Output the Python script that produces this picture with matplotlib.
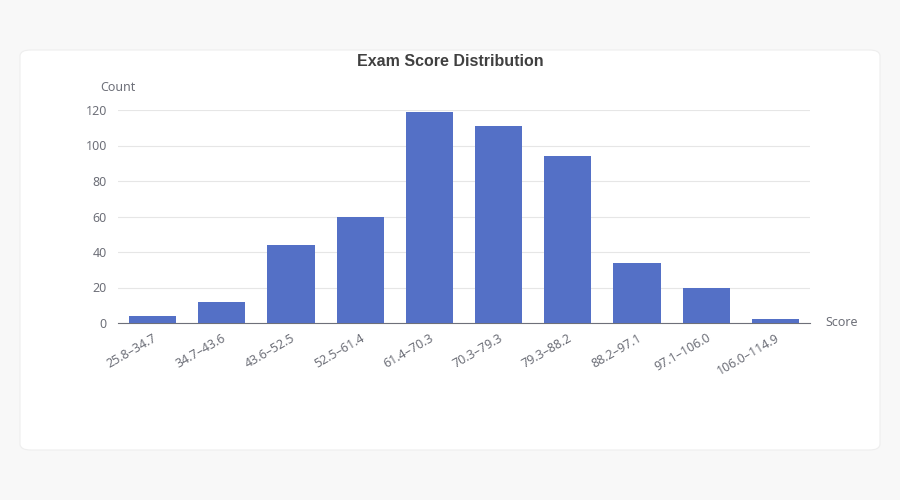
import matplotlib
matplotlib.use("Agg")
import matplotlib.pyplot as plt
from matplotlib.patches import FancyBboxPatch
import numpy as np

categories = ["25.8–34.7", "34.7–43.6", "43.6–52.5", "52.5–61.4", "61.4–70.3",
              "70.3–79.3", "79.3–88.2", "88.2–97.1", "97.1–106.0", "106.0–114.9"]
counts = [4, 12, 44, 60, 119, 111, 94, 34, 20, 2]
yticks = [0, 20, 40, 60, 80, 100, 120]

plt.rcParams['font.family'] = ['Noto Sans', 'DejaVu Sans']

fig = plt.figure(figsize=(9, 5), dpi=100)
fig.patch.set_facecolor('#f8f8f8')
card = FancyBboxPatch((20/900, 50/500), 860/900, 400/500,
                      boxstyle="round,pad=0,rounding_size=0.012",
                      transform=fig.transFigure, facecolor='white',
                      edgecolor='#eeeeee', linewidth=0.8, zorder=-10)
fig.patches.append(card)

ax = fig.add_axes([118/900, 1-323/500, (810-118)/900, (323-110)/500])
ax.set_zorder(1)
ax.set_facecolor('none')
x = np.arange(len(categories))
ax.bar(x, counts, width=0.68, color='#5470c6', zorder=3)
ax.set_xlim(-0.5, len(categories)-0.5)
ax.set_ylim(0, 120)
ax.set_yticks(yticks)
ax.set_yticklabels([str(v) for v in yticks], fontsize=9, color='#6e7079')
ax.grid(axis='y', color='#e6e6e6', linewidth=0.8, zorder=0)
ax.set_xticks(x)
ax.set_xticklabels(categories, rotation=30, ha='right', rotation_mode='anchor',
                   fontsize=9, color='#6e7079')
for s in ['top', 'right', 'left']:
    ax.spines[s].set_visible(False)
ax.spines['bottom'].set_color('#6e7079')
ax.tick_params(axis='both', length=0)
ax.tick_params(axis='y', pad=8)
ax.tick_params(axis='x', pad=6)

fig.text(118/900, 1-88/500, "Count", fontsize=9, color='#6e7079', ha='center', va='center', zorder=2)
fig.text(825/900, 1-323/500, "Score", fontsize=9, color='#6e7079', ha='left', va='center', zorder=2)
fig.text(450/900, 1-62/500, "Exam Score Distribution", fontsize=11.5, fontweight='bold',
         color='#404040', ha='center', va='center', family=['Liberation Sans', 'DejaVu Sans'], zorder=2)

fig.savefig("out.png", dpi=100, facecolor=fig.get_facecolor())
